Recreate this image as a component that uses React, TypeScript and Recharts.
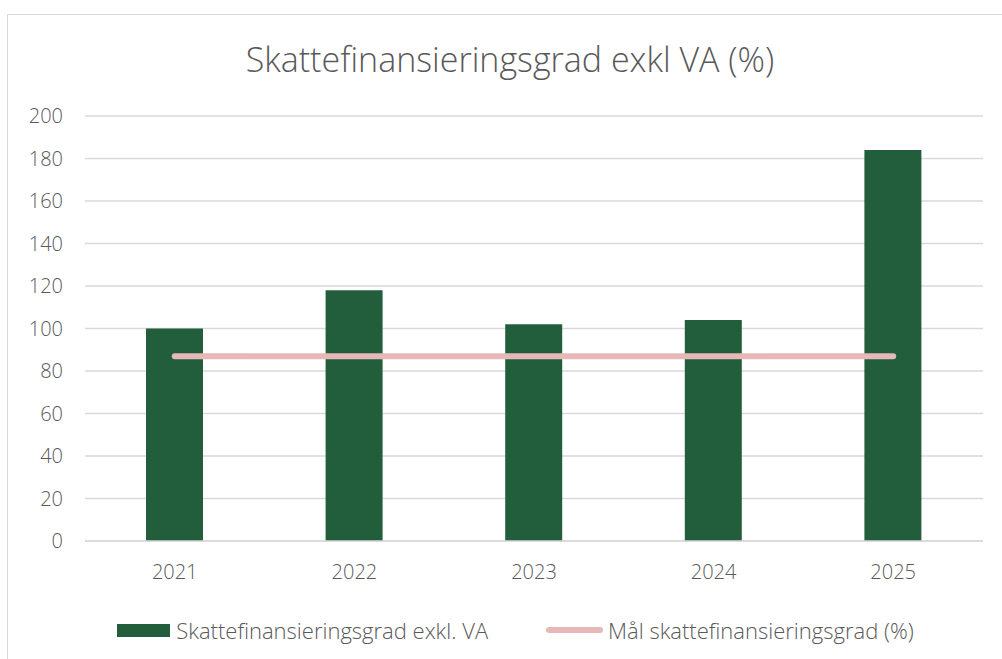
import {
  ComposedChart,
  Bar,
  Line,
  XAxis,
  YAxis,
  CartesianGrid,
  Legend,
} from "recharts";

const years = ["2021", "2022", "2023", "2024", "2025"];
const ratio = [100, 118, 102, 104, 184];
const goal = [87, 87, 87, 87, 87];
const yTicks = [0, 20, 40, 60, 80, 100, 120, 140, 160, 180, 200];

const barName = "Skattefinansieringsgrad exkl. VA";
const lineName = "Mål skattefinansieringsgrad (%)";

const green = "#225e3b";
const pink = "#e6b8b7";
const textColor = "#595959";
const font = "'Open Sans', 'Segoe UI', sans-serif";

// Excel-like legend: wide swatch for the bar, thick rounded stroke for the line
function ChartLegend() {
  return (
    <div
      style={{
        display: "flex",
        justifyContent: "center",
        alignItems: "center",
        height: 38,
        paddingLeft: 29,
        fontFamily: font,
        fontWeight: 300,
        fontSize: 22,
        color: textColor,
      }}
    >
      <span style={{ display: "inline-block", width: 53, height: 13, background: green, marginRight: 6 }} />
      <span style={{ marginRight: 58 }}>{barName}</span>
      <span
        style={{ display: "inline-block", width: 57, height: 6, borderRadius: 3, background: pink, marginRight: 5 }}
      />
      <span>{lineName}</span>
    </div>
  );
}

export default function App() {
  const data = years.map((year, i) => ({ year, ratio: ratio[i], goal: goal[i] }));

  return (
    <div style={{ position: "absolute", left: 0, top: 0, width: 1002, height: 659, background: "#fff", overflow: "hidden" }}>
      <div
        style={{
          position: "absolute",
          left: 7,
          top: 14,
          width: 1100,
          height: 700,
          border: "1px solid #d9d9d9",
        }}
      />
      <div
        style={{
          position: "absolute",
          left: 0,
          width: 1020,
          top: 37,
          textAlign: "center",
          fontFamily: font,
          fontWeight: 300,
          fontSize: 34,
          color: textColor,
          lineHeight: "44px",
        }}
      >
        Skattefinansieringsgrad exkl VA (%)
      </div>
      <div style={{ position: "absolute", left: 0, top: 0 }}>
        <ComposedChart
          width={1002}
          height={659}
          data={data}
          margin={{ top: 116, right: 19, bottom: 10, left: 0 }}
        >
          <CartesianGrid vertical={false} stroke="#d9d9d9" strokeWidth={1.5} />
          <XAxis
            dataKey="year"
            height={70}
            axisLine={{ stroke: "#d9d9d9", strokeWidth: 1.5 }}
            tickLine={false}
            tickSize={0}
            tickMargin={24}
            tick={{ fill: textColor, fontSize: 20, fontFamily: font, fontWeight: 300 }}
          />
          <YAxis
            width={85}
            domain={[0, 200]}
            ticks={yTicks}
            axisLine={false}
            tickLine={false}
            tickSize={0}
            tickMargin={22}
            tick={{ fill: textColor, fontSize: 20, fontFamily: font, fontWeight: 300 }}
          />
          <Legend verticalAlign="bottom" wrapperStyle={{ left: 0, width: 1002 }} content={() => <ChartLegend />} />
          <Bar dataKey="ratio" name={barName} fill={green} barSize={57} isAnimationActive={false} />
          <Line
            dataKey="goal"
            name={lineName}
            type="linear"
            stroke={pink}
            strokeWidth={6}
            strokeLinecap="round"
            dot={false}
            activeDot={false}
            isAnimationActive={false}
          />
        </ComposedChart>
      </div>
    </div>
  );
}
